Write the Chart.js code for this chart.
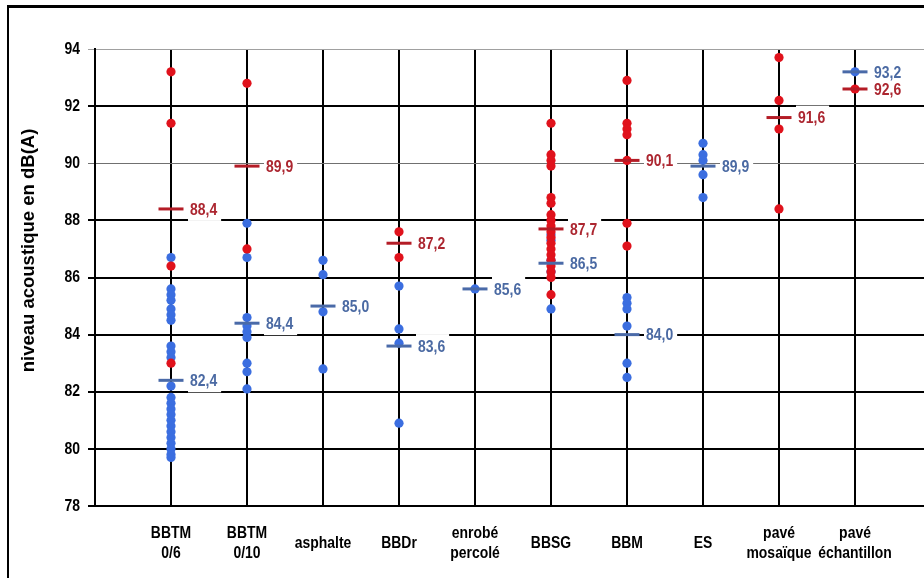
<!DOCTYPE html>
<html><head><meta charset="utf-8">
<script src="https://cdn.jsdelivr.net/npm/chart.js@4.4.1/dist/chart.umd.min.js"></script>
<style>
html,body{margin:0;padding:0;background:#fff;overflow:hidden;}
#frame{position:absolute;left:7px;top:5px;width:915px;height:570px;border-left:2px solid #000;border-top:3px solid #000;}
#wrap{position:absolute;left:9px;top:8px;width:915px;height:570px;}
</style></head><body>
<div id="frame"></div>
<div id="wrap"><canvas id="c" width="915" height="570"></canvas></div>
<script>
// ---- data ----
const categories = [["BBTM","0/6"],["BBTM","0/10"],"asphalte","BBDr",["enrobé","percolé"],"BBSG","BBM","ES",["pavé","mosaïque"],["pavé","échantillon"]];
const yTicks = [78,80,82,84,86,88,90,92,94];
const yTitle = 'niveau acoustique en dB(A)';

const bluePoints = [
  [86.7,85.6,85.4,85.2,84.9,84.7,84.5,83.6,83.4,83.2,82.2,81.8,81.6,81.4,81.2,81.0,80.8,80.6,80.4,80.2,80.0,79.8,79.7],
  [87.9,86.7,84.6,84.3,84.1,83.9,83.0,82.7,82.1],
  [86.6,86.1,84.8,82.8],
  [85.7,84.2,83.7,80.9],
  [85.6],
  [84.9,86.2,86.6,87.3,87.5],
  [85.3,85.1,84.9,84.3,83.0,82.5],
  [90.7,90.3,90.1,89.6,88.8],
  [],
  [93.2]
];
const redPoints = [
  [93.2,91.4,86.4,83.0],
  [92.8,87.0],
  [],
  [87.6,86.7],
  [],
  [91.4,90.3,90.1,89.9,88.8,88.6,88.2,88.0,87.8,87.6,87.4,87.2,87.0,86.8,86.6,86.4,86.2,86.0,85.4],
  [92.9,91.4,91.2,91.0,90.1,87.9,87.1],
  [],
  [93.7,92.2,91.2,88.4],
  [92.6]
];
const blueMeans = [82.4,84.4,85.0,83.6,85.6,86.5,84.0,89.9,null,93.2];
const redMeans  = [88.4,89.9,null,87.2,null,87.7,90.1,null,91.6,92.6];

// ---- styles ----
const FONT = "'Liberation Sans',Arial,sans-serif";
const K = 0.82; // horizontal condensing of upright text (narrow look)
const BLUE_DOT = '#3b6ee0', RED_DOT = '#e0121c';
const BLUE_MEAN = '#4a6aa8', RED_MEAN = '#b41c26';
const BLUE_TXT = '#4b6aa3', RED_TXT = '#ac2630';

const canvas = document.getElementById('c');
const ctx0 = canvas.getContext('2d');
const origFill = ctx0.fillText.bind(ctx0);
ctx0.fillText = function(t, x, y, mw){
  const m = ctx0.getTransform();
  if (Math.abs(m.b) > 1e-6 || Math.abs(m.c) > 1e-6) {
    return (mw === undefined) ? origFill(t, x, y) : origFill(t, x, y, mw);
  }
  ctx0.save(); ctx0.translate(x, y); ctx0.scale(K, 1); origFill(t, 0, 0); ctx0.restore();
};

function toPts(groups){
  const out = [];
  groups.forEach((g,i)=>g.forEach(v=>out.push({x:i+1,y:v})));
  return out;
}
function meanPts(arr){
  const out = [];
  arr.forEach((m,i)=>{ if(m!==null) out.push({x:i+1,y:m}); });
  return out;
}

const labelPlugin = {
  id:'meanLabels',
  beforeDatasetsDraw(chart){
    const {ctx, scales:{x,y}} = chart;
    ctx.save();
    ctx.font = "bold 17px " + FONT;
    ctx.textBaseline = 'middle';
    ctx.textAlign = 'left';
    const items = [];
    blueMeans.forEach((m,i)=>{ if(m!==null) items.push({m,i,c:BLUE_TXT}); });
    redMeans.forEach((m,i)=>{ if(m!==null) items.push({m,i,c:RED_TXT}); });
    items.forEach(it=>{
      it.t = it.m.toFixed(1).replace('.',',');
      it.px = x.getPixelForValue(it.i+1) + 19;
      it.py = y.getPixelForValue(it.m);
      it.w = ctx.measureText(it.t).width * K;
      ctx.fillStyle = '#fff';
      ctx.fillRect(it.px-2, it.py-12, it.w+6, 24);
    });
    items.forEach(it=>{
      ctx.fillStyle = it.c;
      ctx.fillText(it.t, it.px, it.py+1);
    });
    ctx.restore();
  },
  afterDraw(chart){
    const {ctx, chartArea} = chart;
    ctx.save();
    ctx.font = "bold 18.5px " + FONT;
    ctx.fillStyle = '#000';
    ctx.textAlign = 'center';
    ctx.textBaseline = 'middle';
    ctx.translate(20, (chartArea.top + chartArea.bottom)/2 - 27);
    ctx.rotate(-Math.PI/2);
    ctx.fillText(yTitle, 0, 0);
    ctx.restore();
  }
};

new Chart(canvas, {
  type:'scatter',
  data:{
    datasets:[
      {label:'blueMean', data:meanPts(blueMeans), pointStyle:'line', pointRadius:12.5, borderWidth:3, borderColor:BLUE_MEAN, backgroundColor:BLUE_MEAN, order:1},
      {label:'redMean', data:meanPts(redMeans), pointStyle:'line', pointRadius:12.5, borderWidth:3, borderColor:RED_MEAN, backgroundColor:RED_MEAN, order:0},
      {label:'red', data:toPts(redPoints), pointRadius:4.6, borderWidth:0, backgroundColor:RED_DOT, order:2},
      {label:'blue', data:toPts(bluePoints), pointRadius:4.6, borderWidth:0, backgroundColor:BLUE_DOT, order:3}
    ]
  },
  options:{
    responsive:false,
    devicePixelRatio:1,
    animation:false,
    events:[],
    layout:{autoPadding:false, padding:{top:41,left:44,right:0,bottom:0}},
    plugins:{legend:{display:false},tooltip:{enabled:false}},
    scales:{
      x:{
        type:'linear', min:0, max:(915-86)/76,
        afterBuildTicks(s){ s.ticks = categories.map((c,i)=>({value:i+1})); },
        afterFit(s){ s.height = 72; s.paddingLeft = 0; s.paddingRight = 0; },
        ticks:{
          callback:(v)=>categories[Math.round(v)-1],
          autoSkip:false, maxRotation:0, minRotation:0,
          color:'#000', padding:27, crossAlign:'center',
          font:{family:FONT, size:17, weight:'bold', lineHeight:'20px'}
        },
        grid:{color:'#000', lineWidth:2, drawTicks:false},
        border:{display:true, color:'#000', width:2}
      },
      y:{
        type:'linear', min:78, max:94,
        afterBuildTicks(s){ s.ticks = yTicks.map(v=>({value:v})); },
        afterFit(s){ s.width = 42; },
        ticks:{color:'#000', padding:8, font:{family:FONT, size:17, weight:'bold'}},
        grid:{
          color:(c)=> c.tick && c.tick.value===94 ? '#a0a0a0' : (c.tick && c.tick.value===90 ? '#707070' : '#000'),
          lineWidth:(c)=> c.tick && (c.tick.value===94 || c.tick.value===90) ? 1 : 2,
          tickLength:7, drawTicks:true
        },
        border:{display:true, color:'#000', width:2}
      }
    }
  },
  plugins:[labelPlugin]
});
</script>
</body></html>
